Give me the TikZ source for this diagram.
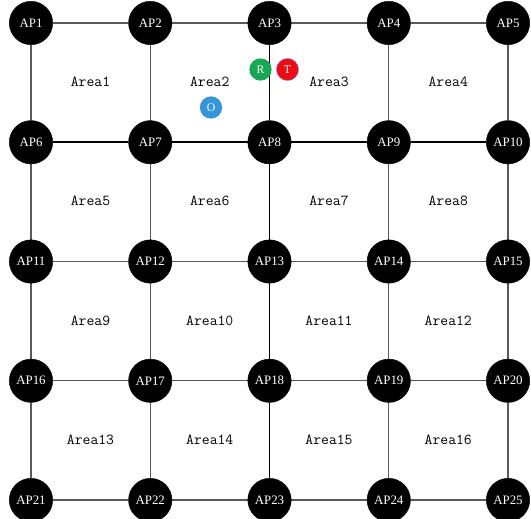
\documentclass[tikz,border=0pt]{standalone}
\usepackage{fontspec}
\setmainfont{Liberation Serif}
\usetikzlibrary{backgrounds}
\definecolor{rgreen}{RGB}{22,168,82}
\definecolor{tred}{RGB}{236,12,18}
\definecolor{oblue}{RGB}{52,150,218}
\tikzset{
  ap/.style={circle, fill=black, draw=black, minimum size=37, inner sep=0pt,
    text=white, font=\fontsize{11}{11}\selectfont},
  area/.style={font=\ttfamily\fontsize{13}{13}\selectfont},
  link/.style={black!65, line width=0.9pt},
  marker/.style={circle, minimum size=19, inner sep=0pt, text=white,
    font=\fontsize{10}{10}\selectfont},
}
\begin{document}
\begin{tikzpicture}[x=0.03cm, y=-0.03cm]
  \useasboundingbox (0,0) rectangle (531,518);
  % Access points AP1..AP25
  \foreach \r in {0,...,4}{
    \foreach \c in {0,...,4}{
      \pgfmathtruncatemacro\n{5*\r+\c+1}
      \node[ap] (ap\n) at ({31+119.25*\c},{23+119.25*\r}) {AP\n};
    }
  }
  % Areas between the access points
  \foreach \r in {0,...,3}{
    \foreach \c in {0,...,3}{
      \pgfmathtruncatemacro\k{4*\r+\c+1}
      \node[area] (area\k) at ({90.5+119.25*\c},{82+119.25*\r}) {Area\k};
    }
  }
  % Links
  \begin{scope}[on background layer]
    \foreach \r in {0,...,4}{
      \foreach \c in {1,...,4}{
        \pgfmathtruncatemacro\a{5*\r+\c}
        \pgfmathtruncatemacro\b{\a+1}
        \ifnum\r=1
          \draw[link, black, line width=1.8pt] (ap\a) -- (ap\b);
        \else
          \draw[link] (ap\a) -- (ap\b);
        \fi
      }
    }
    \foreach \c in {1,...,5}{
      \foreach \r in {0,...,3}{
        \pgfmathtruncatemacro\a{5*\r+\c}
        \pgfmathtruncatemacro\b{\a+5}
        \ifnum\c=3
          \draw[link, black] (ap\a) -- (ap\b);
        \else
          \draw[link] (ap\a) -- (ap\b);
        \fi
      }
    }
  \end{scope}
  % Markers
  \node[marker, fill=rgreen] (rnode) at (260.5,69.5) {R};
  \node[marker, fill=tred, draw=blue!40, line width=0.4pt] (tnode) at (287.5,69.5) {T};
  \node[marker, fill=oblue] (onode) at (211,107.5) {O};
\end{tikzpicture}
\end{document}
